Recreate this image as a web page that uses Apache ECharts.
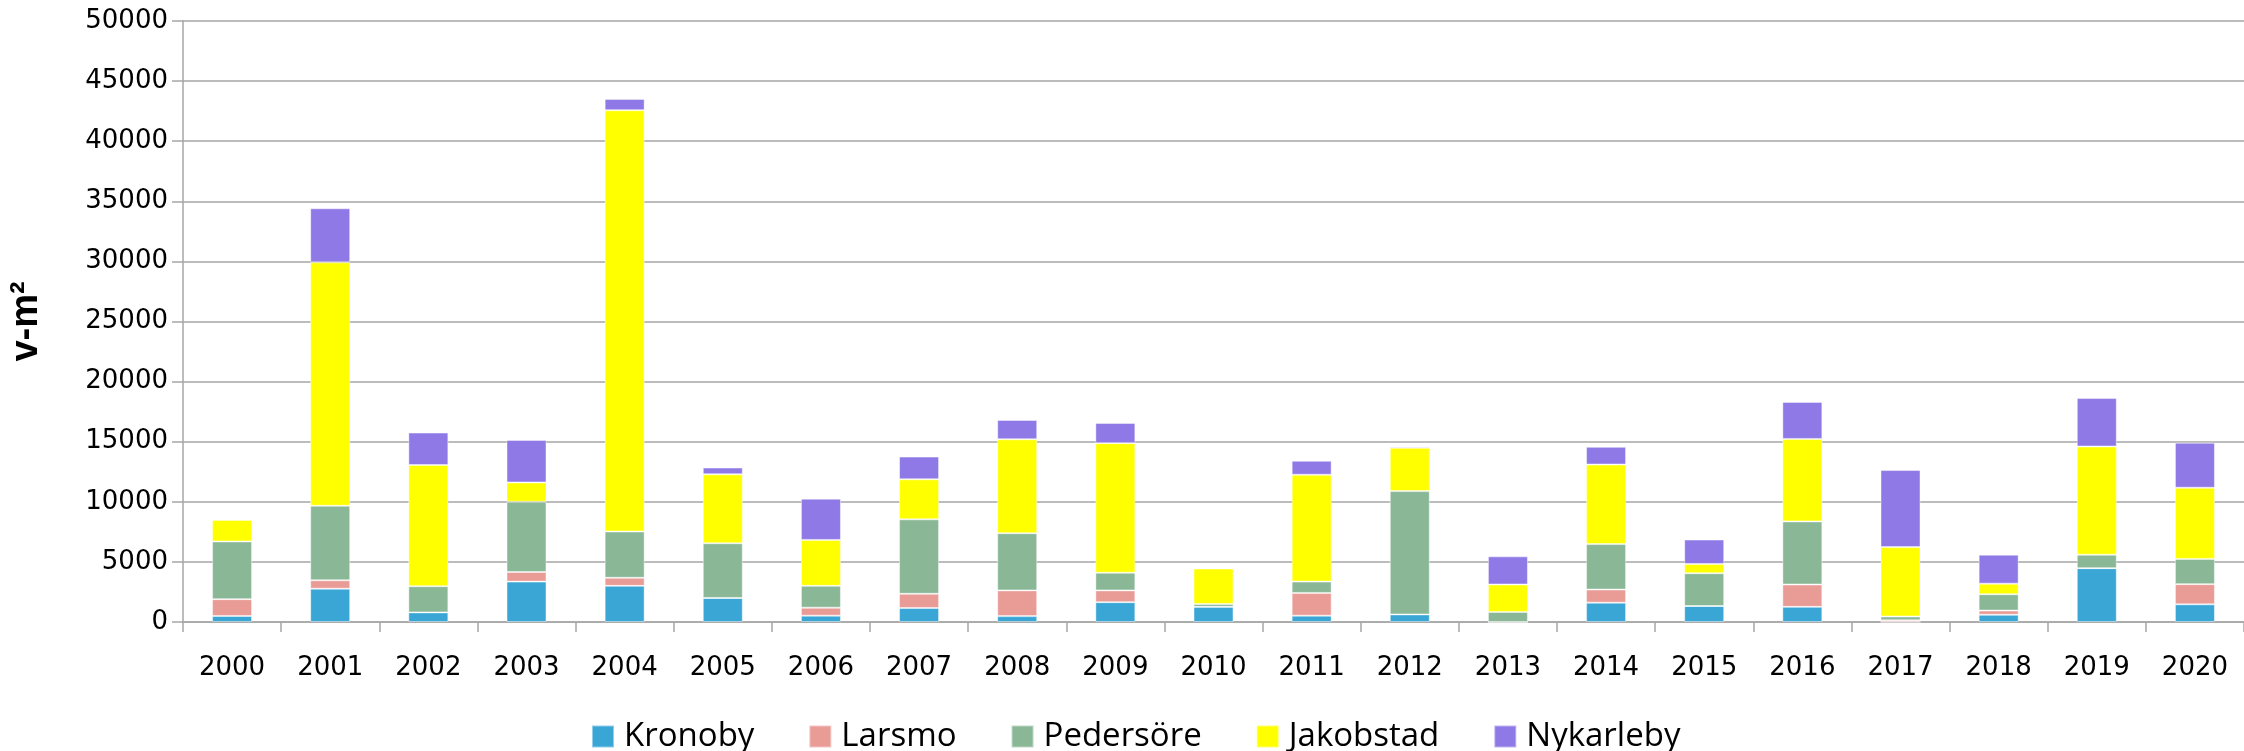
<!DOCTYPE html>
<html>
<head>
<meta charset="utf-8">
<script src="https://cdn.jsdelivr.net/npm/echarts@6/dist/echarts.min.js"></script>
<style>
  html, body { margin: 0; padding: 0; background: #fff; }
  #main { width: 2244px; height: 751px; }
</style>
</head>
<body>
<div id="main"></div>
<script>
'use strict';

// values (v-m2 per year)
const years = ['2000', '2001', '2002', '2003', '2004', '2005', '2006', '2007', '2008', '2009', '2010',
	'2011', '2012', '2013', '2014', '2015', '2016', '2017', '2018', '2019', '2020'];
const kronoby = [500, 2770, 800, 3360, 3010, 2000, 530, 1160, 490, 1650, 1260, 530, 630, 0, 1610, 1330, 1260, 0, 600, 4480, 1470];
const larsmo = [1400, 700, 0, 800, 670, 0, 660, 1190, 2140, 980, 0, 1890, 0, 0, 1090, 0, 1860, 140, 350, 0, 1680];
const pedersore = [4800, 6200, 2180, 5850, 3850, 4550, 1820, 6190, 4760, 1470, 240, 940, 10260, 840, 3780, 2730, 5250, 320, 1360, 1120, 2100];
const jakobstad = [1800, 20250, 10080, 1600, 35050, 5740, 3820, 3330, 7810, 10780, 2950, 8890, 3610, 2280, 6620, 770, 6860, 5770, 880, 9000, 5920];
const nykarleby = [0, 4500, 2700, 3540, 940, 560, 3430, 1890, 1610, 1680, 0, 1160, 100, 2340, 1470, 2030, 3080, 6410, 2410, 4030, 3750];

const seriesNames = ['Kronoby', 'Larsmo', 'Pedersöre', 'Jakobstad', 'Nykarleby'];
const seriesData = [kronoby, larsmo, pedersore, jakobstad, nykarleby];
const colors = ['#3aa6d6', '#e99b96', '#8ab897', '#ffff00', '#8e79e6'];

var myChart = echarts.init(document.getElementById('main'));

const gridColor = '#a6a6a6';

var option = {
	animation: false,
	color: colors,
	grid: {
		left: 180,
		right: -11,
		top: 21,
		bottom: 129,
		containLabel: false
	},
	legend: {
		data: seriesNames,
		left: 586,
		top: 715,
		itemWidth: 22,
		itemHeight: 22,
		itemGap: 54,
		icon: 'rect',
		textStyle: {
			fontFamily: 'Open Sans',
			fontSize: 33,
			color: '#000',
			padding: [0, 0, 0, 5]
		}
	},
	xAxis: {
		type: 'category',
		data: years,
		axisLine: { lineStyle: { color: gridColor, width: 1.5 } },
		axisTick: { show: true, length: 10, lineStyle: { color: gridColor, width: 1.5 } },
		axisLabel: {
			margin: 33,
			fontFamily: 'DejaVu Sans',
			fontSize: 26,
			color: '#000'
		}
	},
	yAxis: {
		type: 'value',
		min: 0,
		max: 50000,
		interval: 5000,
		name: 'v-m²',
		nameLocation: 'middle',
		nameGap: 137,
		nameMoveOverlap: false,
		nameTextStyle: {
			fontFamily: 'Liberation Sans',
			fontWeight: 'bold',
			fontSize: 38,
			color: '#000'
		},
		axisLine: { show: true, lineStyle: { color: gridColor, width: 1.5 } },
		axisTick: { show: true, length: 11, lineStyle: { color: gridColor, width: 1.5 } },
		splitLine: { lineStyle: { color: gridColor, width: 1.5 } },
		axisLabel: {
			margin: 15,
			align: 'right',
			fontFamily: 'DejaVu Sans',
			fontSize: 26,
			color: '#000',
			formatter: function(v) { return String(v); }
		}
	},
	series: []
};

// one stacked bar series per municipality
for (let i = 0; i < seriesNames.length; i++) {
	option.series.push({
		name: seriesNames[i],
		type: 'bar',
		stack: 'total',
		barWidth: 40,
		data: seriesData[i],
		itemStyle: {
			borderColor: 'rgba(255,255,255,0.45)',
			borderWidth: 1
		}
	});
}

myChart.setOption(option);
</script>
</body>
</html>
